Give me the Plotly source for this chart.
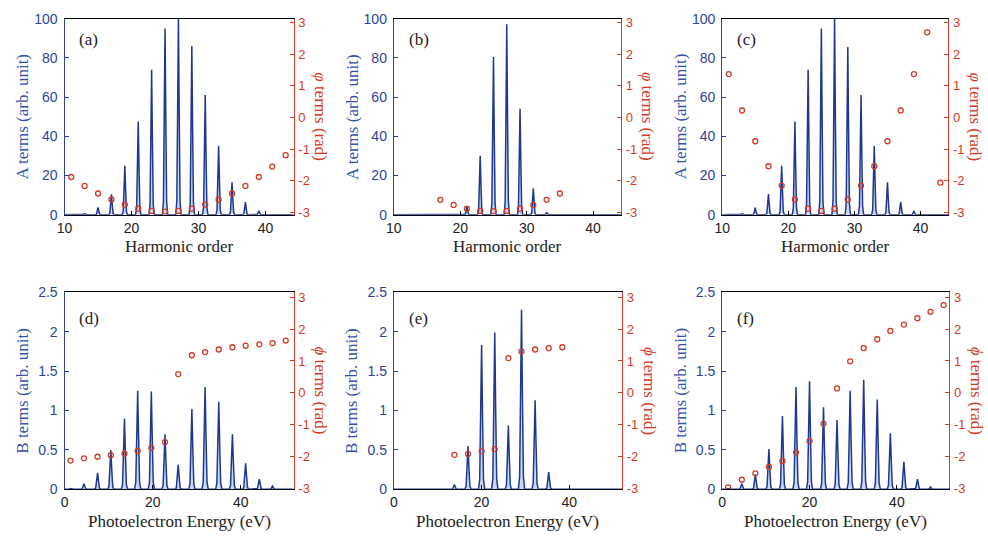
import plotly.graph_objects as go

# ---------------- data ----------------
harm_a = [13, 15, 17, 19, 21, 23, 25, 27, 29, 31, 33, 35, 37, 39, 41]
amp_a = [0.5, 3.7, 10.4, 25, 47.5, 74, 95, 100, 86, 61, 35, 16.5, 6.4, 2, 0.3]
phord_a = [11, 13, 15, 17, 19, 21, 23, 25, 27, 29, 31, 33, 35, 37, 39, 41, 43]
phase_a = [-1.88, -2.16, -2.40, -2.59, -2.75, -2.88, -2.95, -2.97, -2.95, -2.88,
           -2.75, -2.59, -2.40, -2.16, -1.88, -1.55, -1.19]

harm_b = [21, 23, 25, 27, 29, 31, 33]
amp_b = [4.1, 30, 80.4, 97.2, 54, 13.5, 1]
phord_b = [17, 19, 21, 23, 25, 27, 29, 31, 33, 35]
phase_b = [-2.60, -2.76, -2.88, -2.95, -2.96, -2.95, -2.88, -2.76, -2.60, -2.40]

harm_c = [13, 15, 17, 19, 21, 23, 25, 27, 29, 31, 33, 35, 37, 39, 41]
amp_c = [0.5, 3.6, 10.5, 25, 47.5, 74, 95, 100, 85.5, 61, 35, 16.5, 6.4, 2, 0.3]
phord_c = [11, 13, 15, 17, 19, 21, 23, 25, 27, 29, 31, 33, 35, 37, 39, 41, 43]
phase_c = [1.37, 0.22, -0.75, -1.54, -2.15, -2.59, -2.88, -2.95, -2.88, -2.59,
           -2.15, -1.54, -0.75, 0.22, 1.37, 2.69, -2.06]

E_d = [1.35, 4.4, 7.5, 10.5, 13.6, 16.6, 19.7, 22.8, 25.8, 28.9, 31.9, 35.0, 38.1, 41.1, 44.2, 47.2]
B_d = [0.01, 0.07, 0.21, 0.50, 0.90, 1.25, 1.24, 0.70, 0.31, 1.02, 1.30, 1.11, 0.70, 0.33, 0.13, 0.04]
phE_d = [1.35, 4.4, 7.5, 10.5, 13.6, 16.6, 19.7, 22.8, 25.8, 28.9, 31.9, 35.0, 38.1, 41.1, 44.2, 47.2, 50.2]
phase_d = [-2.12, -2.05, -2.0, -1.95, -1.90, -1.82, -1.72, -1.54, 0.59, 1.18, 1.28,
           1.36, 1.43, 1.48, 1.52, 1.56, 1.64]

E_e = [13.8, 16.9, 20.0, 23.0, 26.1, 29.1, 32.2, 35.3]
B_e = [0.06, 0.55, 1.83, 1.99, 0.81, 2.28, 1.13, 0.22]
phE_e = [13.8, 16.9, 20.0, 23.0, 26.1, 29.1, 32.2, 35.3, 38.4]
phase_e = [-1.94, -1.91, -1.83, -1.76, 1.09, 1.30, 1.36, 1.40, 1.43]

E_f = [1.36, 4.5, 7.6, 10.7, 13.8, 16.9, 20.0, 23.2, 26.3, 29.3, 32.4, 35.5, 38.5, 41.6, 44.7, 47.7]
B_f = [0.01, 0.07, 0.19, 0.51, 0.93, 1.30, 1.37, 1.04, 0.88, 1.25, 1.39, 1.14, 0.71, 0.35, 0.13, 0.03]
phE_f = [1.36, 4.5, 7.6, 10.7, 13.8, 16.9, 20.0, 23.2, 26.3, 29.3, 32.4, 35.5, 38.5, 41.6, 44.7, 47.7, 50.7]
phase_f = [-2.96, -2.72, -2.52, -2.32, -2.13, -1.86, -1.51, -0.97, 0.14, 0.99, 1.40,
           1.68, 1.94, 2.14, 2.34, 2.54, 2.75]

panel_labels = ["(a)", "(b)", "(c)", "(d)", "(e)", "(f)"]
phase_ticks = [-3, -2, -1, 0, 1, 2, 3]
phase_ticktext = ["-3", "-2", "-1", "0", "1", "2", "3"]

# ---------------- styling ----------------
W, H = 988, 541
BLUE = "#2c449c"
BLUE_T = "#3552ab"
RED = "#d23a26"
PEAK = "#1e3891"
PEAKFILL = "rgba(110,140,215,0.35)"
SERIF = "Liberation Serif, DejaVu Serif, serif"
SANS = "Liberation Sans, Arial, sans-serif"

# panel pixel boxes: left, right, top, bottom
boxes = [
    (57, 288, 11, 213), (389, 618, 11, 213), (720, 948, 11, 213),
    (57, 288, 293, 496), (389, 619, 293, 496), (720, 949, 293, 496),
]

panels = [
    (harm_a, amp_a, phord_a, phase_a),
    (harm_b, amp_b, phord_b, phase_b),
    (harm_c, amp_c, phord_c, phase_c),
    (E_d, B_d, phE_d, phase_d),
    (E_e, B_e, phE_e, phase_e),
    (E_f, B_f, phE_f, phase_f),
]


def peak_path(centers, heights, hw, xmin, xmax):
    # narrow peak outline for each harmonic line (shape offsets are style only)
    offs = [-1.0, -0.6, -0.3, 0.0, 0.3, 0.6, 1.0]
    rel = [0.0, 0.07, 0.5, 1.0, 0.5, 0.07, 0.0]
    xs, ys = [xmin], [0]
    for c, h in zip(centers, heights):
        for o, r in zip(offs, rel):
            xs.append(c + o * hw)
            ys.append(h * r)
    xs.append(xmax)
    ys.append(0)
    return xs, ys


fig = go.Figure()
layout = {}
annotations = []

for i, (px_, amp, phx, ph) in enumerate(panels):
    top_row = i < 3
    l, r, t, b = boxes[i]
    xd = [l / W, r / W]
    yd = [1 - b / H, 1 - t / H]
    xs = "" if i == 0 else str(i + 1)
    yl = "" if i == 0 else str(2 * i + 1)
    yr = str(2 * i + 2)
    xrange = [10, 44.2] if top_row else [0, 52]
    hw = 0.4 if top_row else 0.72

    x_p, y_p = peak_path(px_, amp, hw, xrange[0], xrange[1])
    fig.add_trace(go.Scatter(
        x=x_p, y=y_p, mode="lines", fill="tozeroy", fillcolor=PEAKFILL,
        line=dict(color=PEAK, width=1.5), xaxis="x" + xs, yaxis="y" + yl,
        showlegend=False, hoverinfo="skip"))
    fig.add_trace(go.Scatter(
        x=phx, y=ph, mode="markers", xaxis="x" + xs, yaxis="y" + yr,
        marker=dict(symbol="circle-open", size=5, color=RED, line=dict(width=1.3)),
        showlegend=False))

    layout["xaxis" + xs] = dict(
        domain=xd, range=xrange, anchor="y" + yl, showline=True, linecolor="black",
        linewidth=1.2, mirror=True, ticks="inside", ticklen=4, tickcolor="black",
        tickvals=[10, 20, 30, 40] if top_row else [0, 20, 40],
        showgrid=False, zeroline=False,
        tickfont=dict(family=SANS, size=14, color="#222222"))
    layout["yaxis" + yl] = dict(
        domain=yd, range=[0, 100] if top_row else [0, 2.5], anchor="x" + xs,
        showline=True, linecolor=BLUE, linewidth=1.2, ticks="inside", ticklen=4,
        tickcolor=BLUE, dtick=20 if top_row else 0.5, showgrid=False, zeroline=False,
        tickfont=dict(family=SANS, size=14, color=BLUE), ticklabelstandoff=3)
    layout["yaxis" + yr] = dict(
        domain=yd, range=[-3.07, 3.12] if top_row else [-3.02, 3.15],
        anchor="x" + xs, overlaying="y" + yl, side="right", showline=True,
        linecolor=RED, linewidth=1.2, ticks="inside", ticklen=4, tickcolor=RED,
        tickvals=phase_ticks, ticktext=phase_ticktext, showgrid=False,
        zeroline=False, tickfont=dict(family=SANS, size=13, color=RED),
        ticklabelstandoff=1)

    cy = (t + b) / 2
    # left axis title
    annotations.append(dict(
        x=(l - 42) / W, y=1 - cy / H, xref="paper", yref="paper",
        text=("A" if top_row else "B") + " terms (arb. unit)", textangle=-90,
        showarrow=False, font=dict(family=SERIF, size=17, color=BLUE_T),
        xanchor="center", yanchor="middle"))
    # right axis title (reads top to bottom)
    sym = "φ" if top_row else "ϕ"
    annotations.append(dict(
        x=(r + 27) / W, y=1 - cy / H, xref="paper", yref="paper",
        text="<i>" + sym + "</i> terms (rad)", textangle=90, showarrow=False,
        font=dict(family=SERIF, size=17, color=RED),
        xanchor="center", yanchor="middle"))
    # x axis title
    annotations.append(dict(
        x=(l + r) / 2 / W, y=1 - (b + 33) / H, xref="paper", yref="paper",
        text="Harmonic order" if top_row else "Photoelectron Energy (eV)",
        showarrow=False, font=dict(family=SERIF, size=17, color="#222222"),
        xanchor="center", yanchor="middle"))
    # panel label
    annotations.append(dict(
        x=(l + 13) / W, y=1 - (t + 21 if top_row else t + 27) / H,
        xref="paper", yref="paper", text=panel_labels[i], showarrow=False,
        font=dict(family=SERIF, size=17, color="#222222"),
        xanchor="left", yanchor="middle"))

fig.update_layout(
    width=W, height=H, margin=dict(l=0, r=0, t=0, b=0),
    paper_bgcolor="white", plot_bgcolor="white",
    annotations=annotations, **layout)

fig.write_html(
    "out.html",
    config={"displayModeBar": False},
    post_script="document.body.style.margin='0';document.body.style.overflow='hidden';")
